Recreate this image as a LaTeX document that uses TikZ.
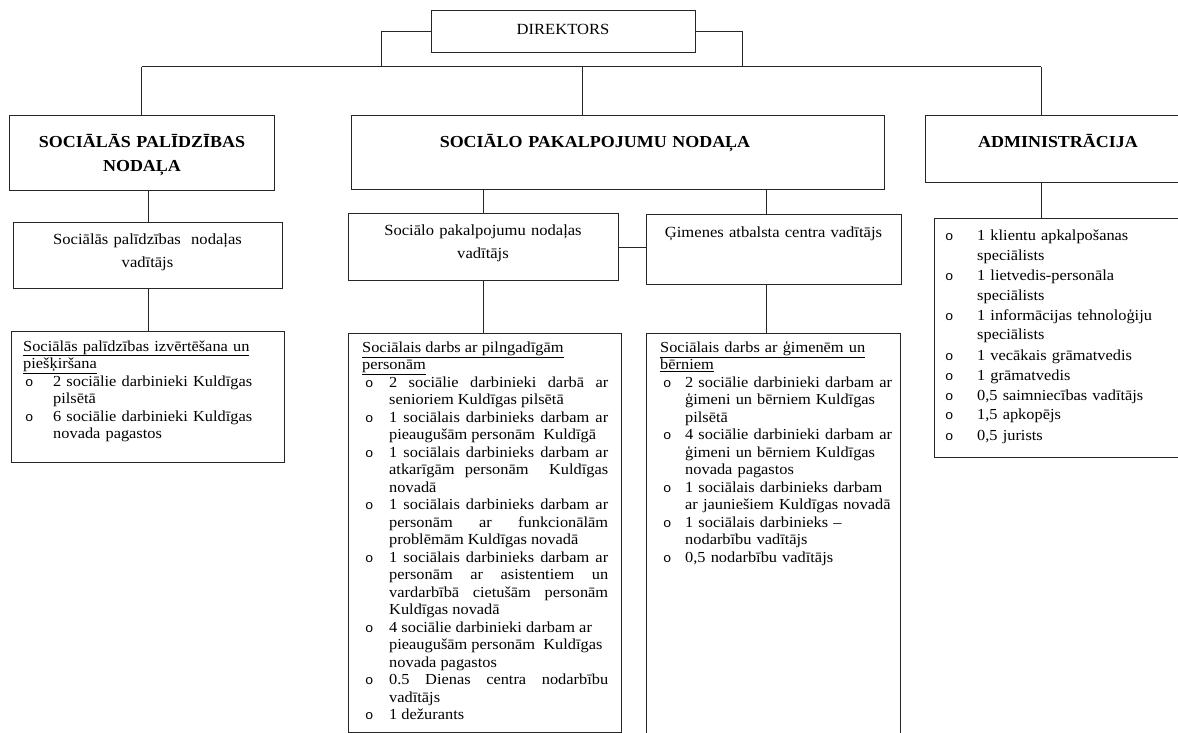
\documentclass[tikz,border=0pt]{standalone}
\usepackage{fontspec}
\setmainfont[FakeStretch=1.07]{Liberation Serif}
\newfontfamily\bulfont[FakeStretch=1.07]{Liberation Mono}

\newlength\bulind
\newlength\bulpre
\newcommand{\itmbody}[1]{\hangindent=\bulind\hangafter=1\noindent
  \makebox[\bulind][l]{\hspace{\bulpre}{\bulfont\fontsize{13}{13}\selectfont o}}#1\par}
\newcommand{\itm}[1]{\par\itmbody{#1}}

\tikzset{
  box/.style={draw=black!85, line width=1pt, anchor=north west, inner sep=0pt},
  link/.style={draw=black!85, line width=1pt},
  title/.style={font=\fontsize{16.8}{24}\selectfont\bfseries, align=center,
    text width=300pt, anchor=base, inner sep=0pt},
  chief/.style={font=\fontsize{15.5}{23}\selectfont, align=center,
    text width=260pt, anchor=base, inner sep=0pt},
  staff/.style={font=\fontsize{15.3}{17.5}\selectfont, anchor=base west,
    inner sep=0pt, execute at begin node={\tolerance=10000\hbadness=10000}},
}

\begin{document}
\begin{tikzpicture}[x=1pt, y=-1pt]
    \useasboundingbox (0,0) rectangle (1178,733);

    % Kastes
    \node[box, minimum width=264pt, minimum height=42pt] (dir) at (431,10) {};
    \node[box, minimum width=265pt, minimum height=75pt] (sp) at (9,115) {};
    \node[box, minimum width=533pt, minimum height=74pt] (spk) at (351,115) {};
    \node[box, minimum width=280pt, minimum height=67pt] (adm) at (925,115) {};
    \node[box, minimum width=269pt, minimum height=66pt] (spv) at (13,222) {};
    \node[box, minimum width=270pt, minimum height=67pt] (spkv) at (348,213) {};
    \node[box, minimum width=255pt, minimum height=70pt] (gim) at (646,214) {};
    \node[box, minimum width=273pt, minimum height=131pt] (spl) at (11,331) {};
    \node[box, minimum width=273pt, minimum height=399pt] (spkl) at (348,333) {};
    \node[box, minimum width=254pt, minimum height=440pt] (giml) at (646,333) {};
    \node[box, minimum width=270pt, minimum height=239pt] (adml) at (934,218) {};

    % Virsraksti
    \node[chief] (dirT) at (563,35) {DIREKTORS};
    \node[title] (spT) at (142,148) {SOCIĀLĀS PALĪDZĪBAS\\NODAĻA};
    \node[title, text width=400pt] (spkT) at (595,148) {SOCIĀLO PAKALPOJUMU NODAĻA};
    \node[title] (admT) at (1058,148) {ADMINISTRĀCIJA};
    \node[chief] (spvT) at (147.5,244) {Sociālās palīdzības\ \ nodaļas\\vadītājs};
    \node[chief] (spkvT) at (483,235) {Sociālo pakalpojumu nodaļas\\vadītājs};
    \node[chief] (gimT) at (773.5,237) {Ģimenes atbalsta centra vadītājs};

    % Saraksti
    \node[staff, align=left, text width=249pt] (splT) at (23,351) {%
      \setlength\bulind{30pt}\setlength\bulpre{2pt}%
      \underline{Sociālās palīdzības izvērtēšana un}\\\underline{piešķiršana}
      \itm{2 sociālie darbinieki Kuldīgas\newline pilsētā}
      \itm{6 sociālie darbinieki Kuldīgas\newline novada pagastos}};
    \node[staff, align=justify, text width=246pt] (spklT) at (362,352) {%
      \setlength\bulind{27pt}\setlength\bulpre{3pt}%
      \underline{Sociālais darbs ar pilngadīgām}\\\underline{personām}
      \itm{2 sociālie darbinieki darbā ar\linebreak senioriem Kuldīgas pilsētā}
      \itm{1 sociālais darbinieks darbam ar\linebreak pieaugušām personām\ \ Kuldīgā}
      \itm{1 sociālais darbinieks darbam ar\linebreak atkarīgām personām\ \ Kuldīgas\linebreak novadā}
      \itm{1 sociālais darbinieks darbam ar\linebreak personām ar funkcionālām\linebreak problēmām Kuldīgas novadā}
      \itm{1 sociālais darbinieks darbam ar\linebreak personām ar asistentiem un\linebreak vardarbībā cietušām personām\linebreak Kuldīgas novadā}
      \itm{4 sociālie darbinieki darbam ar\newline pieaugušām personām\ \ Kuldīgas\newline novada pagastos}
      \itm{0.5 Dienas centra nodarbību\linebreak vadītājs}
      \itm{1 dežurants}};
    \node[staff, align=left, text width=240pt] (gimlT) at (660,352) {%
      \setlength\bulind{25pt}\setlength\bulpre{3pt}%
      \underline{Sociālais darbs ar ģimenēm un}\\\underline{bērniem}
      \itm{2 sociālie darbinieki darbam ar\newline ģimeni un bērniem Kuldīgas\newline pilsētā}
      \itm{4 sociālie darbinieki darbam ar\newline ģimeni un bērniem Kuldīgas\newline novada pagastos}
      \itm{1 sociālais darbinieks darbam\newline ar jauniešiem Kuldīgas novadā}
      \itm{1 sociālais darbinieks --\newline nodarbību vadītājs}
      \itm{0,5 nodarbību vadītājs}};
    \node[staff, align=left, text width=235pt, font=\fontsize{15.3}{20}\selectfont]
      (admlT) at (945,240) {%
      \setlength\bulind{32pt}\setlength\bulpre{0pt}%
      \itmbody{1 klientu apkalpošanas\newline speciālists}
      \itm{1 lietvedis-personāla\newline speciālists}
      \itm{1 informācijas tehnoloģiju\newline speciālists}
      \itm{1 vecākais grāmatvedis}
      \itm{1 grāmatvedis}
      \itm{0,5 saimniecības vadītājs}
      \itm{1,5 apkopējs}
      \itm{0,5 jurists}};

    % Savienojumi
    \coordinate (jL) at (381,67);
    \coordinate (jR) at (742,67);
    \coordinate (busL) at (141.5,67);
    \coordinate (busM) at (582,67);
    \coordinate (busR) at (1041,67);
    \coordinate (gimX) at (766,214);
    \draw[link] (dir.west) -| (jL);
    \draw[link] (dir.east) -| (jR);
    \draw[link] (busL) -- (busR);
    \draw[link] (busL) -- (busL |- sp.north);
    \draw[link] (busM) -- (busM |- spk.north);
    \draw[link] (busR) -- (busR |- adm.north);
    \draw[link] (spv.north |- sp.south) -- (spv.north);
    \draw[link] (spv.south) -- (spv.south |- spl.north);
    \draw[link] (spkv.north |- spk.south) -- (spkv.north);
    \draw[link] (spkv.south) -- (spkv.south |- spkl.north);
    \draw[link] (spkv.east) -- (spkv.east -| gim.west);
    \draw[link] (gimX |- spk.south) -- (gimX |- gim.north);
    \draw[link] (gimX |- gim.south) -- (gimX |- giml.north);
    \draw[link] (busR |- adm.south) -- (busR |- adml.north);

\end{tikzpicture}
\end{document}
